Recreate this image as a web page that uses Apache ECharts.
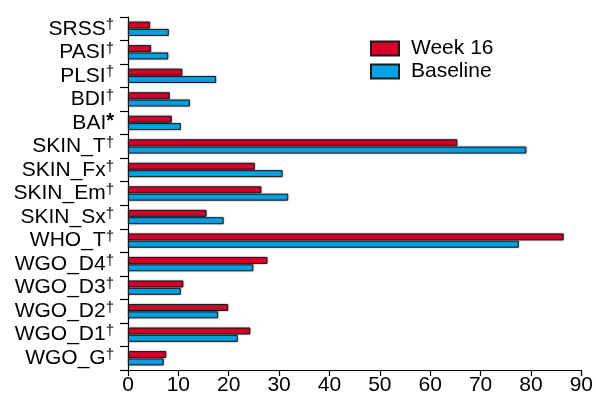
<!DOCTYPE html>
<html>
<head>
<meta charset="utf-8">
<script src="https://cdn.jsdelivr.net/npm/echarts@6/dist/echarts.min.js"></script>
<style>
  html, body { margin: 0; padding: 0; background: #fff; }
  #main { width: 596px; height: 401px; }
</style>
</head>
<body>
<div id="main"></div>
<script>
// categories top -> bottom
var categories = ['SRSS', 'PASI', 'PLSI', 'BDI', 'BAI', 'SKIN_T', 'SKIN_Fx', 'SKIN_Em', 'SKIN_Sx',
                  'WHO_T', 'WGO_D4', 'WGO_D3', 'WGO_D2', 'WGO_D1', 'WGO_G'];
var marks = ['†', '†', '†', '†', '*', '†', '†', '†', '†', '†', '†', '†', '†', '†', '†'];
var week16   = [4.4, 4.6, 10.8, 8.3, 8.7, 65.4, 25.2, 26.5, 15.6, 86.5, 27.7, 11.0, 19.9, 24.3, 7.6];
var baseline = [8.1, 8.0, 17.5, 12.3, 10.5, 79.1, 30.7, 31.8, 19.0, 77.6, 24.9, 10.5, 17.9, 21.8, 7.1];
var xTicks = [0, 90, 10]; // min, max, step

var chart = echarts.init(document.getElementById('main'));

var font = 'Liberation Sans, Arial, sans-serif';
var barStyle = function (c) {
    return {
        color: c,
        borderColor: '#1a1a1a',
        borderWidth: 1,
        shadowColor: 'rgba(0,0,0,0.35)',
        shadowBlur: 2
    };
};

var option = {
    backgroundColor: '#fff',
    animation: false,
    grid: { left: 128, right: 14, top: 17, bottom: 31 },
    legend: {
        orient: 'vertical',
        left: 365, top: 33,
        icon: 'rect',
        itemWidth: 28, itemHeight: 14, itemGap: 2,
        textStyle: { fontFamily: font, fontSize: 21, color: '#000', padding: [0, 0, 0, 7] },
        data: ['Week 16', 'Baseline']
    },
    xAxis: {
        type: 'value',
        min: xTicks[0], max: xTicks[1], interval: xTicks[2],
        splitLine: { show: false },
        axisLine: { show: true, lineStyle: { color: '#000', width: 1.2 } },
        axisTick: { show: true, length: 6, lineStyle: { color: '#000', width: 1.2 } },
        axisLabel: { fontFamily: font, fontSize: 21, color: '#000', margin: 5 }
    },
    yAxis: {
        type: 'category',
        inverse: true,
        data: categories,
        axisLine: { show: true, lineStyle: { color: '#000', width: 1.2 } },
        axisTick: { show: true, length: 8, lineStyle: { color: '#000', width: 1.2 } },
        axisLabel: {
            interval: 0,
            hideOverlap: false,
            margin: 14,
            fontFamily: font,
            color: '#000',
            formatter: function (v, i) {
                return '{b|' + v + '}{' + (marks[i] == '*' ? 'a' : 's') + '|' + marks[i] + '}';
            },
            rich: {
                b: { fontFamily: font, fontSize: 21, color: '#000', lineHeight: 22 },
                s: { fontFamily: font, fontSize: 15, color: '#000', verticalAlign: 'top', lineHeight: 22, padding: [0, 0, 11, 0] },
                a: { fontFamily: font, fontSize: 20, fontWeight: 'bold', color: '#000', verticalAlign: 'top', lineHeight: 22, padding: [0, 0, 4, 0] }
            }
        }
    },
    series: [
        {
            name: 'Week 16', type: 'bar', data: week16,
            barWidth: 7, barGap: '5%',
            itemStyle: barStyle('#d8002b')
        },
        {
            name: 'Baseline', type: 'bar', data: baseline,
            barWidth: 7, barGap: '5%',
            itemStyle: barStyle('#00a3e6')
        }
    ]
};
chart.setOption(option);
</script>
</body>
</html>
